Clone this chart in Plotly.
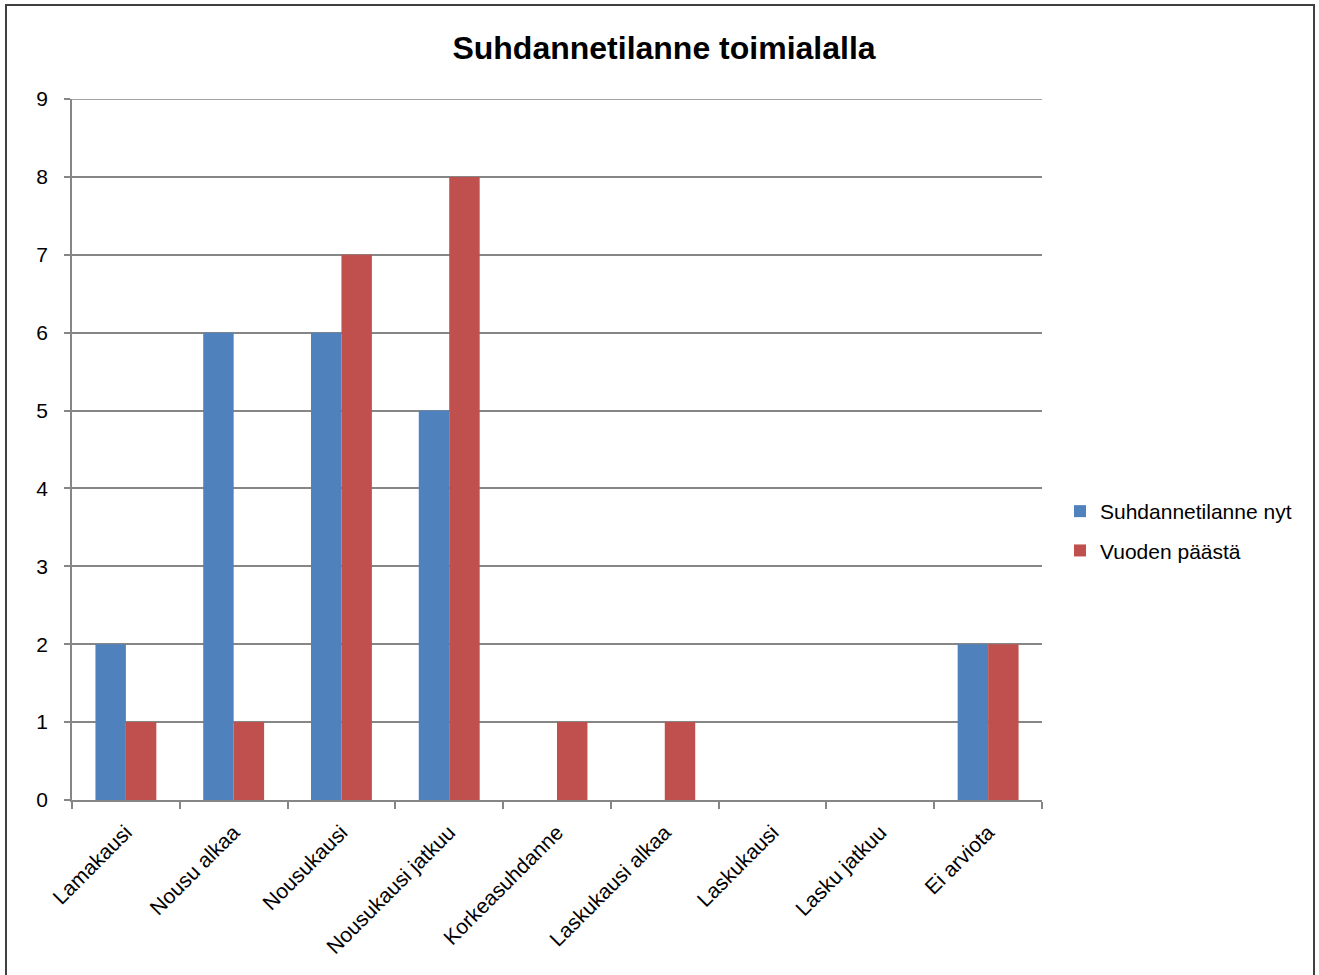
import plotly.graph_objects as go

categories = ["Lamakausi", "Nousu alkaa", "Nousukausi", "Nousukausi jatkuu",
              "Korkeasuhdanne", "Laskukausi alkaa", "Laskukausi", "Lasku jatkuu", "Ei arviota"]
nyt = [2, 6, 6, 5, 0, 0, 0, 0, 2]
vuoden = [1, 1, 7, 8, 1, 1, 0, 0, 2]
series_names = ["Suhdannetilanne nyt", "Vuoden päästä"]
y_ticks = list(range(0, 10))

W, H = 1319, 975
# plot area in screen coordinates
L, R, T, B = 72, 1042, 99, 800

fig = go.Figure()
fig.add_trace(go.Bar(x=categories, y=nyt, name=series_names[0], marker_color="#4F81BD",
                     marker_line_width=0, legendgroup="a"))
fig.add_trace(go.Bar(x=categories, y=vuoden, name=series_names[1], marker_color="#C0504D",
                     marker_line_width=0, legendgroup="b"))

font = "Liberation Sans, Arial, sans-serif"
pw = R - L
ph = B - T
grid_col = "#868686"
fig.update_layout(
    width=W, height=H,
    margin=dict(l=L, r=W - R, t=T, b=H - B, pad=0),
    paper_bgcolor="white", plot_bgcolor="white",
    barmode="group", bargap=0.435, bargroupgap=0,
    title=dict(text="<b>Suhdannetilanne toimialalla</b>", x=664 / W, xanchor="center",
               y=1 - 48 / H, yanchor="middle", font=dict(family=font, size=32, color="black")),
    font=dict(family=font, size=21, color="black"),
    legend=dict(x=(1060 - L) / pw, xanchor="left", y=(B - 491) / ph, yanchor="top",
                font=dict(size=21, family=font), tracegroupgap=9, itemwidth=30,
                bgcolor="rgba(0,0,0,0)"),
    showlegend=True,
)
fig.update_yaxes(range=[0, y_ticks[-1]], tickvals=y_ticks, showgrid=True, gridcolor=grid_col, gridwidth=1.5,
                 showline=True, linecolor=grid_col, linewidth=1.5, ticks="outside", ticklen=6,
                 tickcolor=grid_col, tickwidth=1.5, zeroline=False, ticklabelstandoff=12,
                 tickfont=dict(size=21, family=font))
fig.update_xaxes(showline=True, linecolor=grid_col, linewidth=1.5, ticks="outside", ticklen=7,
                 tickcolor=grid_col, tickwidth=1.5, tickson="boundaries", tickangle=-45,
                 ticklabelstandoff=10,
                 showgrid=False, tickfont=dict(size=21, family=font), range=[-0.5, 8.5])

# top gridline (plotly drops gridlines lying at the very end of the range)
fig.add_shape(type="line", xref="paper", yref="y", x0=0, x1=1, y0=y_ticks[-1], y1=y_ticks[-1],
              line=dict(color=grid_col, width=1.5), layer="below")

# chart border
fig.add_shape(type="rect", xref="paper", yref="paper",
              x0=(6 - L) / pw, x1=(1314 - L) / pw,
              y0=(B - 990) / ph, y1=(B - 5) / ph,
              line=dict(color="#404040", width=2), fillcolor="rgba(0,0,0,0)", layer="above")

fig.write_html("out.html", config={"displayModeBar": False},
               post_script="document.body.style.margin='0px';")
